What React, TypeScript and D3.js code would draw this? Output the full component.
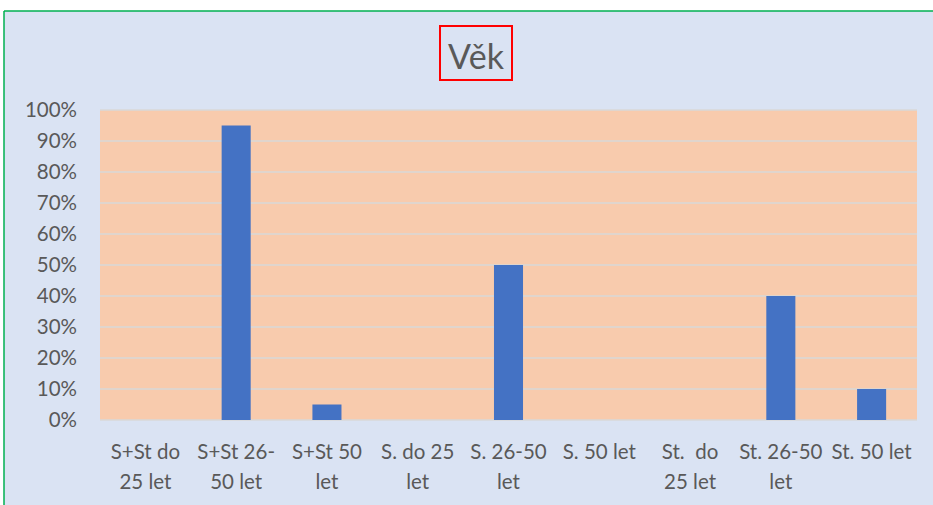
import React from "react";
import * as d3 from "d3";

const categories = [
  ["S+St do", "25 let"],
  ["S+St 26-", "50 let"],
  ["S+St 50", "let"],
  ["S. do 25", "let"],
  ["S. 26-50", "let"],
  ["S. 50 let"],
  ["St.  do", "25 let"],
  ["St. 26-50", "let"],
  ["St. 50 let"],
];
const values = [0, 0.95, 0.05, 0, 0.5, 0, 0, 0.4, 0.1];
const yTicks = [0, 0.1, 0.2, 0.3, 0.4, 0.5, 0.6, 0.7, 0.8, 0.9, 1.0];
const title = "Věk";

const W = 933;
const H = 505;
const plot = { left: 100, right: 917, top: 110, bottom: 420 };
const FONT = "Lato, 'Open Sans', sans-serif";

export default function App() {
  const keys = categories.map((_, i) => String(i));
  const x = d3
    .scaleBand<string>()
    .domain(keys)
    .range([plot.left, plot.right])
    .paddingInner(0.68)
    .paddingOuter(0.34);
  const y = d3.scaleLinear().domain([0, 1]).range([plot.bottom, plot.top]);
  const fmt = d3.format(".0%");
  const band = (plot.right - plot.left) / categories.length;

  return (
    <svg
      width={W}
      height={H}
      style={{ position: "absolute", left: 0, top: 0, display: "block" }}
    >
      <rect x={0} y={0} width={W} height={H} fill="#ffffff" />
      <rect x={4} y={11} width={W} height={H} fill="#DAE3F3" />
      <line x1={4} y1={11} x2={W} y2={11} stroke="#00B050" strokeWidth={1.5} />
      <line x1={4} y1={11} x2={4} y2={H} stroke="#00B050" strokeWidth={1.5} />

      <rect
        x={plot.left}
        y={plot.top}
        width={plot.right - plot.left}
        height={plot.bottom - plot.top}
        fill="#F8CBAD"
      />
      {yTicks.map((t) => (
        <line
          key={t}
          x1={plot.left}
          x2={plot.right}
          y1={y(t)}
          y2={y(t)}
          stroke="#D9D9D9"
          strokeWidth={1.5}
        />
      ))}
      {values.map((v, i) => (
        <rect
          key={i}
          x={x(String(i))}
          y={y(v)}
          width={x.bandwidth()}
          height={plot.bottom - y(v)}
          fill="#4472C4"
        />
      ))}
      {yTicks.map((t) => (
        <text
          key={t}
          x={77}
          y={y(t)}
          dy="0.36em"
          textAnchor="end"
          fontFamily={FONT}
          fontSize={20.5}
          fill="#595959"
        >
          {fmt(t)}
        </text>
      ))}
      {categories.map((lines, i) => (
        <text
          key={i}
          x={plot.left + band * (i + 0.5)}
          textAnchor="middle"
          fontFamily={FONT}
          fontSize={20.5}
          fill="#595959"
        >
          {lines.map((l, j) => (
            <tspan key={j} x={plot.left + band * (i + 0.5)} y={459 + j * 30} style={{ whiteSpace: "pre" }}>
              {l}
            </tspan>
          ))}
        </text>
      ))}
      <text
        x={476}
        y={69}
        textAnchor="middle"
        fontFamily={FONT}
        fontSize={34}
        fill="#595959"
      >
        {title}
      </text>
      <rect x={440} y={26} width={72} height={54} fill="none" stroke="#FF0000" strokeWidth={2} />
    </svg>
  );
}
